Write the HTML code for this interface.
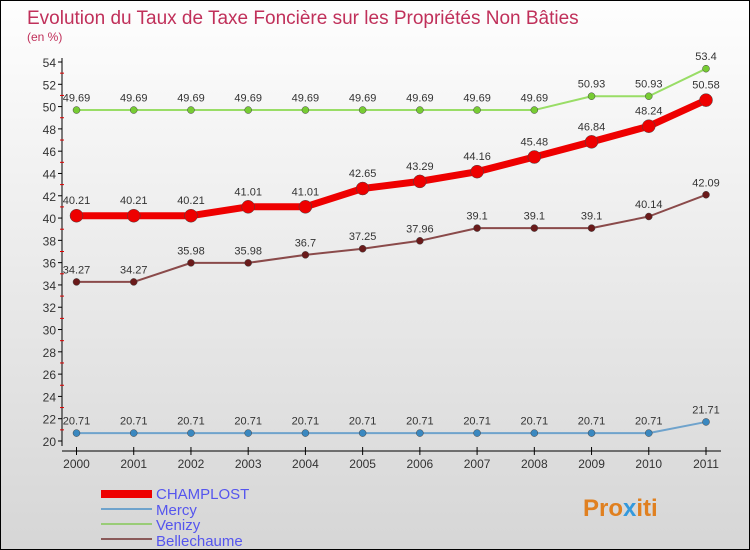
<!DOCTYPE html>
<html><head><meta charset="utf-8"><style>
body{margin:0}
#c{position:relative;width:750px;height:550px;box-sizing:border-box;border:1px solid #000;background:linear-gradient(#fefefe,#d6d6d6);font-family:"Liberation Sans",sans-serif;overflow:hidden}
</style></head><body>
<div id="c">
<svg id="s" width="748" height="548" style="position:absolute;left:0;top:0">
<text x="26" y="23" font-size="19" fill="#c0305a">Evolution du Taux de Taxe Foncière sur les Propriétés Non Bâties</text>
<text x="26" y="40" font-size="12" fill="#c0305a">(en %)</text>
<g id="axes"></g><g id="series"></g>
<g>
<rect x="100" y="489" width="51" height="8" fill="#e00"/>
<text x="155" y="498" font-size="15" fill="#5555ee">CHAMPLOST</text>
<rect x="100" y="507" width="51" height="2" fill="#6fa3cc"/>
<text x="155" y="514" font-size="15" fill="#5555ee">Mercy</text>
<rect x="100" y="522" width="51" height="2" fill="#99cc77"/>
<text x="155" y="529" font-size="15" fill="#5555ee">Venizy</text>
<rect x="100" y="537" width="51" height="2" fill="#8a5a5a"/>
<text x="155" y="545" font-size="15" fill="#5555ee">Bellechaume</text>
</g>
<text x="582" y="515" font-size="24" font-weight="bold" fill="#e08020">Pro<tspan fill="#3399dd">x</tspan>iti</text>
</svg>
</div>
<script>
const years=[2000,2001,2002,2003,2004,2005,2006,2007,2008,2009,2010,2011];
const yTicks=[20,22,24,26,28,30,32,34,36,38,40,42,44,46,48,50,52,54];
const champlost=[40.21,40.21,40.21,41.01,41.01,42.65,43.29,44.16,45.48,46.84,48.24,50.58];
const mercy=[20.71,20.71,20.71,20.71,20.71,20.71,20.71,20.71,20.71,20.71,20.71,21.71];
const venizy=[49.69,49.69,49.69,49.69,49.69,49.69,49.69,49.69,49.69,50.93,50.93,53.4];
const bellechaume=[34.27,34.27,35.98,35.98,36.7,37.25,37.96,39.1,39.1,39.1,40.14,42.09];
const NS="http://www.w3.org/2000/svg";
const X=i=>75.5+i*(705-75.5)/11;
const Y=v=>440-(v-20)*(440-61)/34;
function mk(t,a,p){const e=document.createElementNS(NS,t);for(const k in a)e.setAttribute(k,a[k]);p.appendChild(e);return e;}
const ax=document.getElementById('axes');
let l=mk('line',{x1:61,y1:57,x2:61,y2:445,stroke:'#000'},ax);


const yMax=yTicks[yTicks.length-1];
yTicks.forEach(v=>{mk('line',{x1:57,x2:61,y1:Y(v),y2:Y(v),stroke:'#000'},ax);
 if(v<yMax)mk('line',{x1:59,x2:63,y1:Y(v+1),y2:Y(v+1),stroke:'#d00'},ax);
 const t=mk('text',{x:55,y:Y(v)+5,'font-size':12,'text-anchor':'end',fill:'#333'},ax);t.textContent=v;
 
 });
l=mk('line',{x1:61,y1:450,x2:720,y2:450,stroke:'#000'},ax);


years.forEach((y,i)=>{mk('line',{x1:X(i),x2:X(i),y1:446,y2:454,stroke:'#000'},ax);
 const t=mk('text',{x:X(i),y:467,'font-size':12,'text-anchor':'middle',fill:'#333'},ax);t.textContent=y;
 
 });
const sg=document.getElementById('series');
function draw(name,d,col,dot,w,r){
 const g=mk('g',{},sg);
 
 
 const pl=mk('polyline',{points:d.map((v,i)=>X(i)+','+Y(v)).join(' '),fill:'none',stroke:col,'stroke-width':w,'stroke-linejoin':'round'},g);
 
 
 d.forEach((v,i)=>{const c=mk('circle',{cx:X(i),cy:Y(v),r:r,fill:dot,stroke:'#444','stroke-width':0.5},g);
  
  
  const t=mk('text',{x:X(i),y:Y(v)-r-5,'font-size':11,'text-anchor':'middle',fill:'#333'},g);t.textContent=v;
  
  });
}
draw('mercy',mercy,'#6fa3cc','#3a88c0',2,3.5);
draw('venizy',venizy,'#99dd66','#77cc33',2,3.5);
draw('bellechaume',bellechaume,'#8a4a4a','#6a1a1a',2,3.5);
draw('champlost',champlost,'#ee0000','#ee0000',7,6.5);
</script>
</body></html>
